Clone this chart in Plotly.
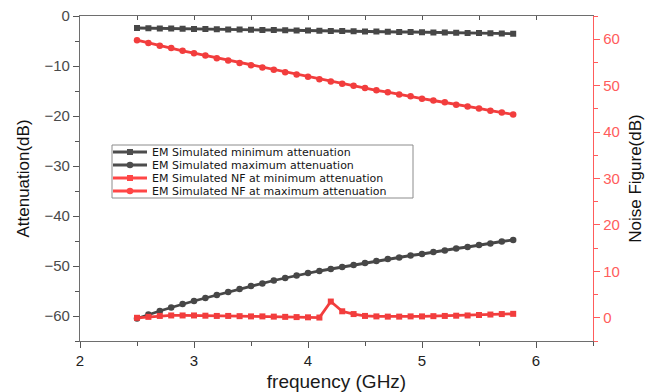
import plotly.graph_objects as go

freq = [2.5, 2.6, 2.7, 2.8, 2.9, 3.0, 3.1, 3.2, 3.3, 3.4, 3.5, 3.6, 3.7, 3.8, 3.9, 4.0, 4.1,
        4.2, 4.3, 4.4, 4.5, 4.6, 4.7, 4.8, 4.9, 5.0, 5.1, 5.2, 5.3, 5.4, 5.5, 5.6, 5.7, 5.8]

att_min = [-2.4, -2.45, -2.5, -2.5, -2.55, -2.6, -2.6, -2.65, -2.7, -2.7, -2.75, -2.8, -2.8,
           -2.85, -2.9, -2.9, -2.95, -3.0, -3.0, -3.05, -3.1, -3.1, -3.15, -3.2, -3.2, -3.25,
           -3.3, -3.3, -3.35, -3.4, -3.4, -3.45, -3.5, -3.55]

att_max = [-60.5, -59.7, -59.0, -58.3, -57.6, -57.0, -56.4, -55.8, -55.2, -54.6, -54.0, -53.5,
           -52.9, -52.4, -51.9, -51.4, -51.0, -50.6, -50.2, -49.8, -49.4, -49.0, -48.6, -48.3,
           -47.9, -47.6, -47.2, -46.9, -46.5, -46.2, -45.8, -45.5, -45.1, -44.8]

nf_min = [0.0, 0.2, 0.4, 0.5, 0.5, 0.5, 0.45, 0.4, 0.4, 0.35, 0.3, 0.3, 0.25, 0.2, 0.15, 0.1,
          0.05, 3.5, 1.4, 0.8, 0.4, 0.3, 0.25, 0.25, 0.3, 0.3, 0.35, 0.4, 0.45, 0.5, 0.6, 0.7,
          0.8, 0.85]

nf_max = [59.8, 59.2, 58.6, 58.1, 57.5, 57.0, 56.5, 55.9, 55.4, 54.9, 54.4, 53.9, 53.4, 52.9,
          52.4, 51.9, 51.4, 50.9, 50.4, 50.0, 49.5, 49.0, 48.6, 48.1, 47.7, 47.2, 46.8, 46.4,
          45.9, 45.5, 45.1, 44.6, 44.2, 43.8]

names = ["EM Simulated minimum attenuation", "EM Simulated maximum attenuation",
         "EM Simulated NF at minimum attenuation", "EM Simulated NF at maximum attenuation"]

x_ticks = [2, 3, 4, 5, 6]
att_ticks = [0, -10, -20, -30, -40, -50, -60]
nf_ticks = [0, 10, 20, 30, 40, 50, 60]

GREY = "#474747"
RED = "#f23d3d"
AXRED = "#ff5c5c"
FONT = "Liberation Sans, Arial, sans-serif"
LEGFONT = "DejaVu Sans, Liberation Sans, sans-serif"

W, H = 667, 392
L, R, T, B = 80, 74, 16, 51
PW, PH = W - L - R, H - T - B


def px(xp):
    return (xp - L) / PW


def py(yp):
    return (H - B - yp) / PH


fig = go.Figure()
styles = [(GREY, "square", 6, "y"), (GREY, "circle", 6.5, "y"),
          (RED, "square", 6, "y2"), (RED, "circle", 6.5, "y2")]
series = [att_min, att_max, nf_min, nf_max]
for name, vals, (col, sym, sz, ax) in zip(names, series, styles):
    fig.add_trace(go.Scatter(x=freq, y=vals, name=name, mode="lines+markers", yaxis=ax,
                             line=dict(color=col, width=2.8),
                             marker=dict(symbol=sym, size=sz, color=col),
                             showlegend=False))

# invisible helper so the top (inside-tick) axis is drawn
fig.add_trace(go.Scatter(x=freq[:1], y=att_min[:1], xaxis="x2", mode="markers",
                         marker=dict(opacity=0), hoverinfo="skip", showlegend=False))

# legend drawn as a box with sample lines and texts
shapes = [dict(type="rect", xref="paper", yref="paper", x0=px(112), x1=px(413),
               y0=py(198), y1=py(145), line=dict(color="#8c8c8c", width=1),
               fillcolor="white", layer="above")]
annotations = []
rows = [152, 165, 178, 191]
for (col, sym, sz, ax), name, yr in zip(styles, names, rows):
    lcol = "#4d4d4d" if col == GREY else "#ff4646"
    shapes.append(dict(type="line", xref="paper", yref="paper", x0=px(113), x1=px(147),
                       y0=py(yr), y1=py(yr), line=dict(color=lcol, width=3), layer="above"))
    r = 3 if sym == "square" else 3.3
    shapes.append(dict(type="rect" if sym == "square" else "circle", xref="paper", yref="paper",
                       x0=px(130 - r), x1=px(130 + r), y0=py(yr + r), y1=py(yr - r),
                       fillcolor=lcol, line=dict(width=0), layer="above"))
    annotations.append(dict(text=name, xref="paper", yref="paper", x=px(149.5), y=py(yr),
                            xanchor="left", yanchor="middle", showarrow=False,
                            font=dict(family=LEGFONT, size=11, color="#151515")))

fig.update_layout(
    width=W, height=H,
    margin=dict(l=L, r=R, t=T, b=B),
    paper_bgcolor="white", plot_bgcolor="white",
    font=dict(family=FONT, size=14, color="#333333"),
    showlegend=False,
    shapes=shapes, annotations=annotations,
    xaxis=dict(range=[2, 6.5], tickvals=x_ticks, ticks="outside", ticklen=6, automargin=False,
               tickwidth=1.2, tickcolor="#555555", showline=True, linecolor="#6e6e6e",
               linewidth=1.3, showgrid=False, zeroline=False,
               minor=dict(dtick=0.5, ticks="outside", ticklen=4, tickcolor="#555555", showgrid=False),
               tickfont=dict(size=15, color="#222222"),
               title=dict(text="frequency (GHz)", font=dict(size=19, color="#1a1a1a"), standoff=10)),
    xaxis2=dict(range=[2, 6.5], overlaying="x", side="top", anchor="y", automargin=False,
                tickvals=[2, 2.5, 3, 3.5, 4, 4.5, 5, 5.5, 6, 6.5],
                ticks="inside", ticklen=4, tickcolor="#555555", showticklabels=False,
                showline=True, linecolor="#6e6e6e", linewidth=1.3, showgrid=False, zeroline=False),
    yaxis=dict(range=[-65, 0], tickvals=att_ticks, ticks="outside", automargin=False,
               ticklen=6, tickwidth=1.2, tickcolor="#555555", showline=True, linecolor="#6e6e6e",
               linewidth=1.3, showgrid=False, zeroline=False,
               minor=dict(dtick=5, ticks="outside", ticklen=4, tickcolor="#555555", showgrid=False),
               tickfont=dict(size=15, color="#4a4a4a"),
               title=dict(text="Attenuation(dB)", font=dict(size=17, color="#111111"), standoff=10)),
    yaxis2=dict(range=[-5, 65], overlaying="y", side="right", anchor="x", automargin=False,
                tickvals=nf_ticks, ticks="outside", ticklen=6, tickwidth=1.2,
                tickcolor=AXRED, showline=True, linecolor=AXRED, linewidth=1.3,
                showgrid=False, zeroline=False,
                minor=dict(dtick=5, ticks="outside", ticklen=4, tickcolor=AXRED, showgrid=False),
                tickfont=dict(size=15, color=AXRED),
                title=dict(text="Noise Figure(dB)", font=dict(size=17, color="#111111"), standoff=10)),
)

fig.write_html("out.html")
